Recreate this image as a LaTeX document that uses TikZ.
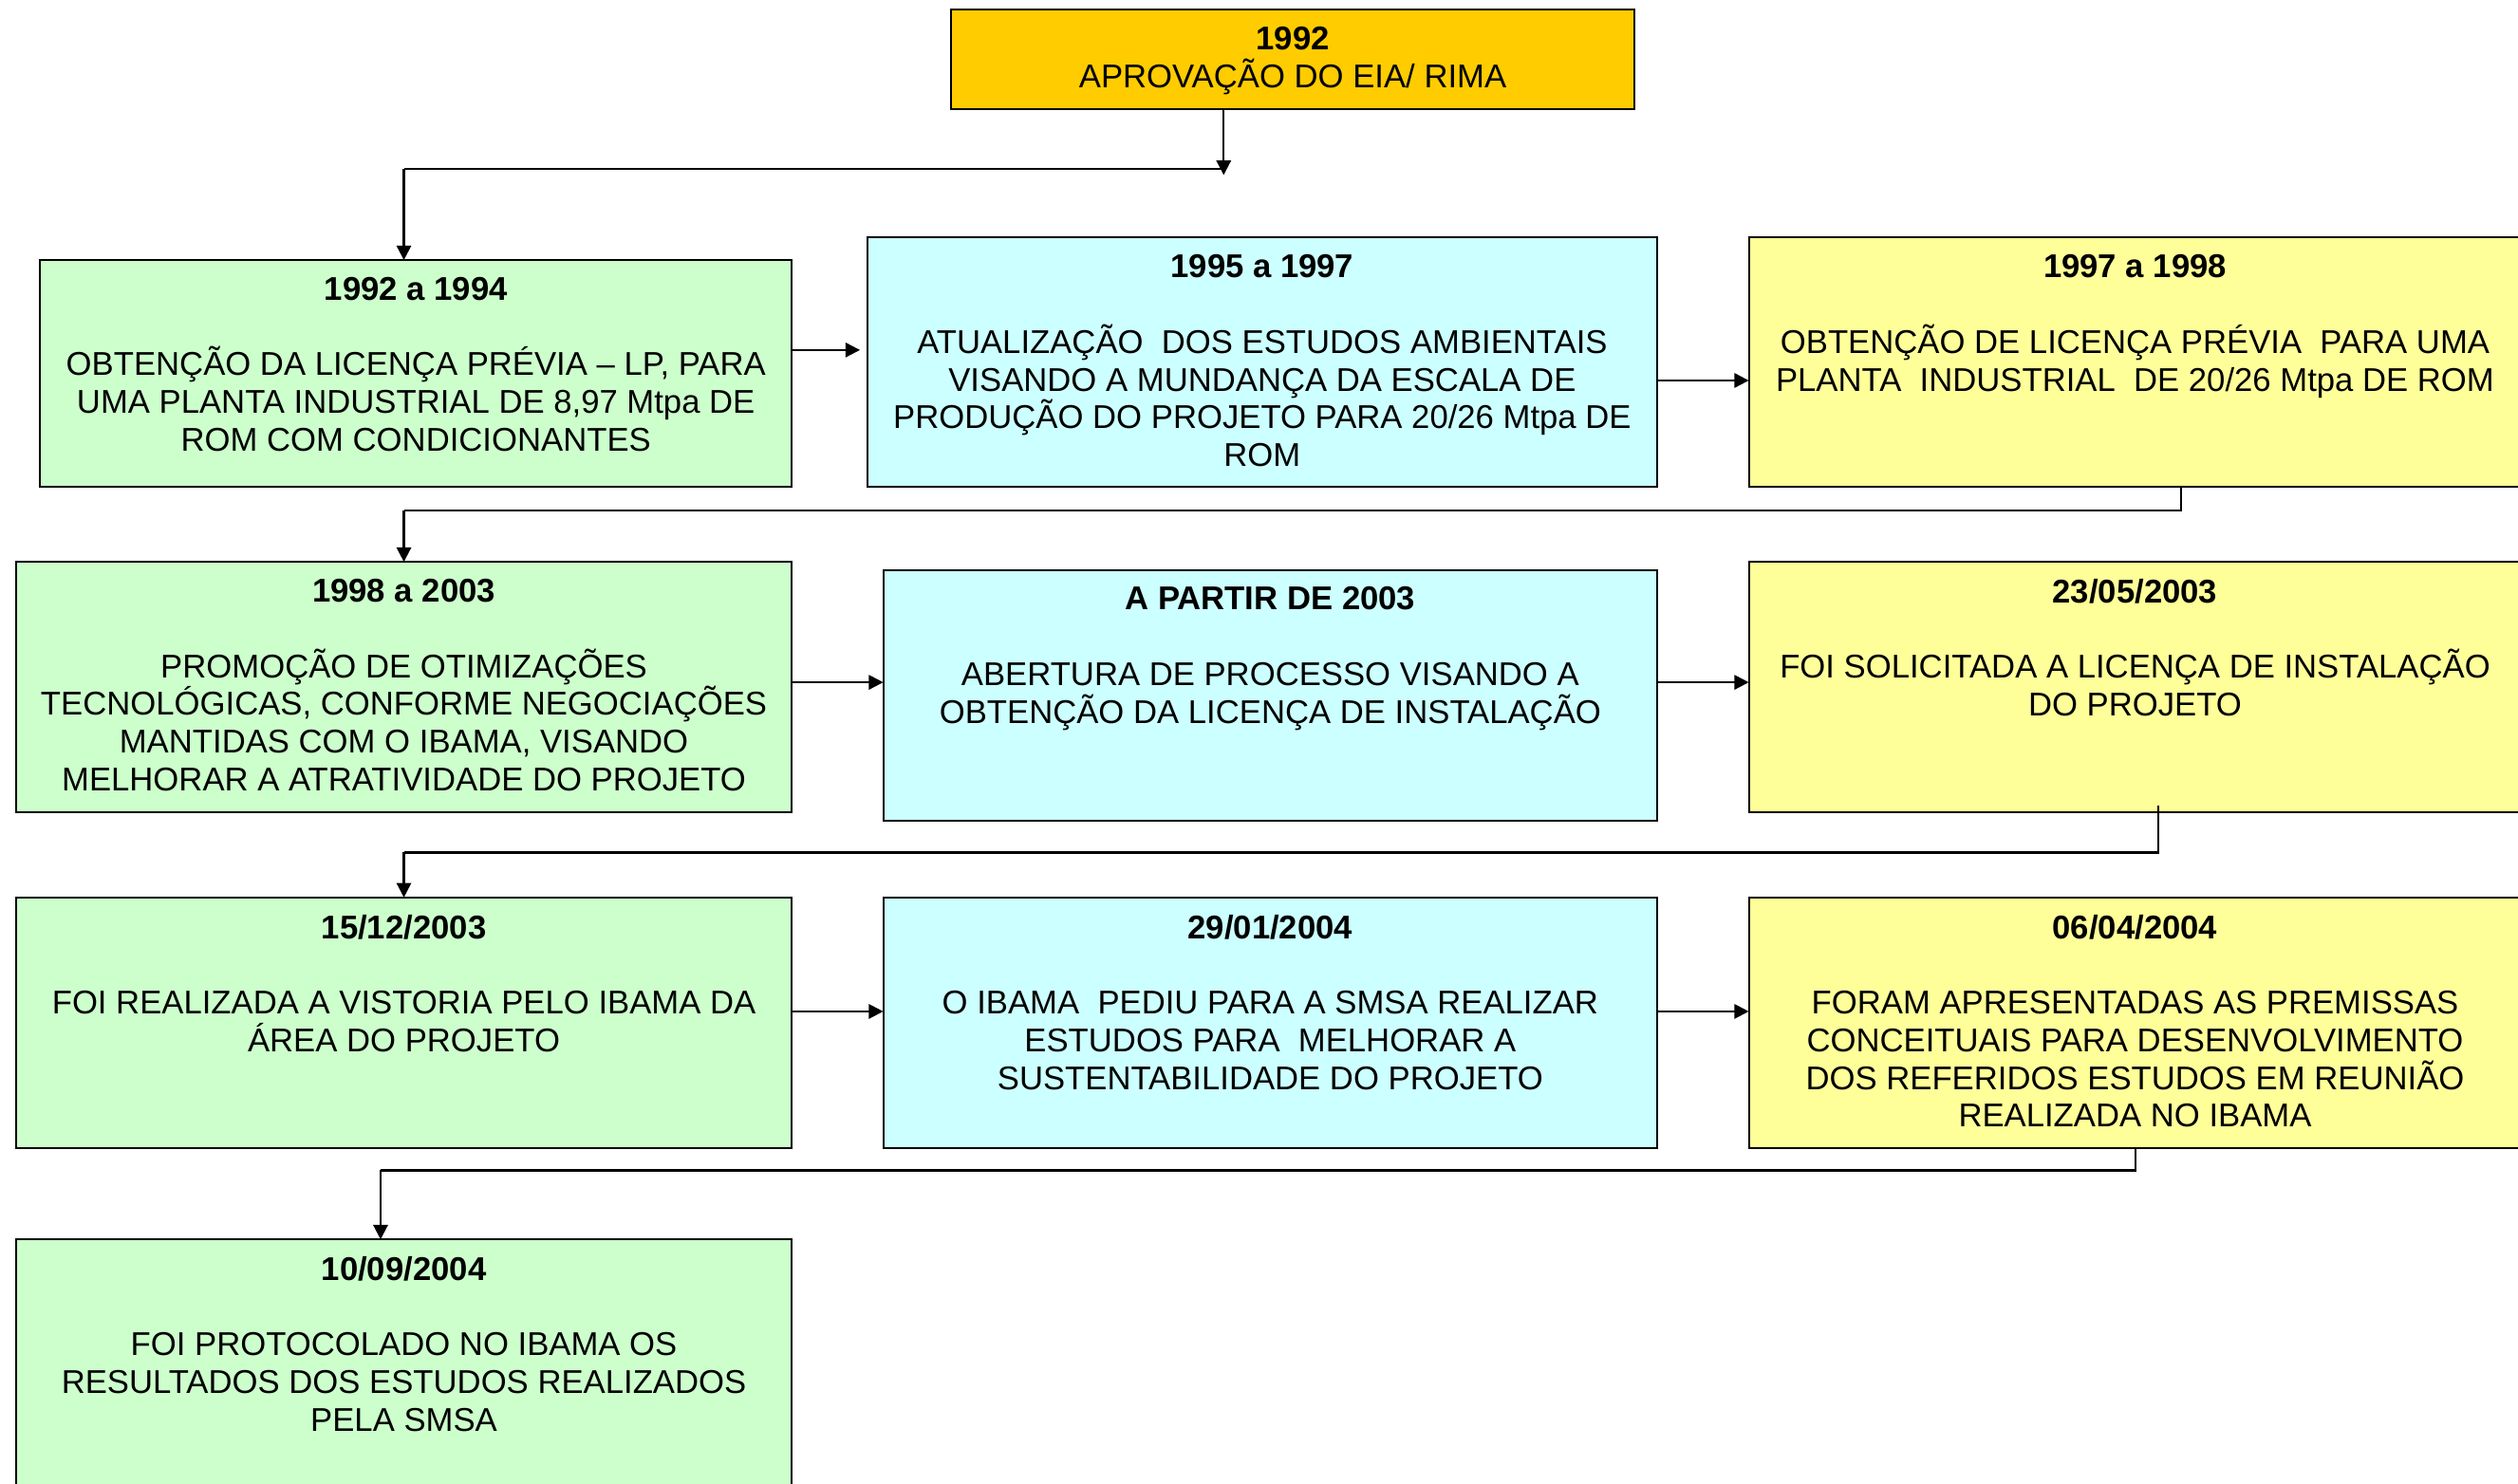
\documentclass[tikz,border=0pt]{standalone}
\usepackage{fontspec}
\setmainfont{Liberation Sans}
\usetikzlibrary{arrows.meta}
\definecolor{goldbox}{HTML}{FFCC00}
\definecolor{greenbox}{HTML}{CCFFCC}
\definecolor{cyanbox}{HTML}{CCFFFF}
\definecolor{yellowbox}{HTML}{FFFF99}
\newcommand\bxt[3]{\begin{minipage}[t][#2][t]{#1}\centering\fontsize{20.5}{23.5}\selectfont\vspace*{10.7pt}#3\end{minipage}}
\begin{document}
\begin{tikzpicture}[x=1pt,y=-1pt,
  box/.style={draw=black, line width=1.2pt, inner sep=0pt, outer sep=0pt, anchor=north west},
  conn/.style={line width=1.3pt, draw=black},
  arr/.style={conn, -{Triangle[length=9pt,width=9pt]}}]
\useasboundingbox (0,0) rectangle (1568,924);
\clip (0,0) rectangle (1568,924);
% boxes
\node[box, fill=goldbox] (top) at (592,6) {\bxt{426pt}{62pt}{\textbf{1992}\\APROVAÇÃO DO EIA/ RIMA}};
\node[box, fill=greenbox] (b1) at (25,162) {\bxt{468pt}{141pt}{\textbf{1992 a 1994}\\[23.5pt]OBTENÇÃO DA LICENÇA PRÉVIA – LP, PARA\\UMA PLANTA INDUSTRIAL DE 8,97 Mtpa DE\\ROM COM CONDICIONANTES}};
\node[box, fill=cyanbox] (b2) at (540,148) {\bxt{492pt}{155pt}{\textbf{1995 a 1997}\\[23.5pt]ATUALIZAÇÃO\ \ DOS ESTUDOS AMBIENTAIS\\VISANDO A MUNDANÇA DA ESCALA DE\\PRODUÇÃO DO PROJETO PARA 20/26 Mtpa DE\\ROM}};
\node[box, fill=yellowbox] (b3) at (1089,148) {\bxt{481pt}{155pt}{\textbf{1997 a 1998}\\[23.5pt]OBTENÇÃO DE LICENÇA PRÉVIA\ \ PARA UMA\\PLANTA\ \ INDUSTRIAL\ \ DE 20/26 Mtpa DE ROM}};
\node[box, fill=greenbox] (b4) at (10,350) {\bxt{483pt}{156pt}{\textbf{1998 a 2003}\\[23.5pt]PROMOÇÃO DE OTIMIZAÇÕES\\TECNOLÓGICAS, CONFORME NEGOCIAÇÕES\\MANTIDAS COM O IBAMA, VISANDO\\MELHORAR A ATRATIVIDADE DO PROJETO}};
\node[box, fill=cyanbox] (b5) at (550,355) {\bxt{482pt}{156pt}{\textbf{A PARTIR DE 2003}\\[23.5pt]ABERTURA DE PROCESSO VISANDO A\\OBTENÇÃO DA LICENÇA DE INSTALAÇÃO}};
\node[box, fill=yellowbox] (b6) at (1089,350) {\bxt{481pt}{156pt}{\textbf{23/05/2003}\\[23.5pt]FOI SOLICITADA A LICENÇA DE INSTALAÇÃO\\DO PROJETO}};
\node[box, fill=greenbox] (b7) at (10,559) {\bxt{483pt}{156pt}{\textbf{15/12/2003}\\[23.5pt]FOI REALIZADA A VISTORIA PELO IBAMA DA\\ÁREA DO PROJETO}};
\node[box, fill=cyanbox] (b8) at (550,559) {\bxt{482pt}{156pt}{\textbf{29/01/2004}\\[23.5pt]O IBAMA\ \ PEDIU PARA A SMSA REALIZAR\\ESTUDOS PARA\ \ MELHORAR A\\SUSTENTABILIDADE DO PROJETO}};
\node[box, fill=yellowbox] (b9) at (1089,559) {\bxt{481pt}{156pt}{\textbf{06/04/2004}\\[23.5pt]FORAM APRESENTADAS AS PREMISSAS\\CONCEITUAIS PARA DESENVOLVIMENTO\\DOS REFERIDOS ESTUDOS EM REUNIÃO\\REALIZADA NO IBAMA}};
\node[box, fill=greenbox] (b10) at (10,772) {\bxt{483pt}{160pt}{\textbf{10/09/2004}\\[23.5pt]FOI PROTOCOLADO NO IBAMA OS\\RESULTADOS DOS ESTUDOS REALIZADOS\\PELA SMSA}};
% connector points
\coordinate (j1) at (762,109);
\coordinate (h1) at (762,105);
\coordinate (k1) at (251.5,105);
\coordinate (e1) at (535.5,218);
\coordinate (s3) at (1358,318);
\coordinate (k3) at (251.5,318);
\coordinate (s6) at (1344,531);
\coordinate (k6) at (251.5,531);
\coordinate (s9) at (1330,729);
\coordinate (k9) at (237,729);
% connectors
\draw[arr] (top.south -| j1) -- (j1);
\draw[conn] (h1) -- (k1);
\draw[arr] (k1) -- (k1 |- b1.north);
\draw[arr] (b1.east |- e1) -- (e1);
\draw[arr] (b2.east |- 0,237) -- (b3.west |- 0,237);
\draw[conn] (b3.south -| s3) -- (s3) -- (k3);
\draw[arr] (k3) -- (k3 |- b4.north);
\draw[arr] (b4.east |- 0,425) -- (b5.west |- 0,425);
\draw[arr] (b5.east |- 0,425) -- (b6.west |- 0,425);
\draw[conn] ([yshift=4pt]b6.south -| s6) -- (s6) -- (k6);
\draw[arr] (k6) -- (k6 |- b7.north);
\draw[arr] (b7.east |- 0,630) -- (b8.west |- 0,630);
\draw[arr] (b8.east |- 0,630) -- (b9.west |- 0,630);
\draw[conn] (b9.south -| s9) -- (s9) -- (k9);
\draw[arr] (k9) -- (k9 |- b10.north);
\end{tikzpicture}
\end{document}
